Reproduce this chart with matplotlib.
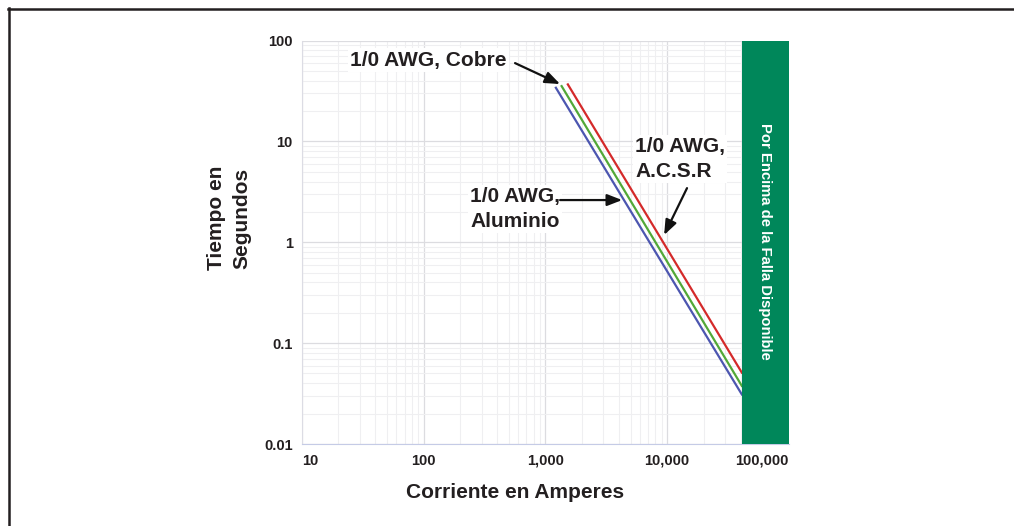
import numpy as np
import matplotlib
matplotlib.use("Agg")
import matplotlib.pyplot as plt
from matplotlib.ticker import LogLocator, NullFormatter

# ---- data ----
x_ticks = [10, 100, 1000, 10000, 100000]
x_tick_labels = ["10", "100", "1,000", "10,000", "100,000"]
y_ticks = [0.01, 0.1, 1, 10, 100]
y_tick_labels = ["0.01", "0.1", "1", "10", "100"]

aluminio_I = [1220, 41000]
aluminio_t = [34.0, 0.031]
acsr_I = [1360, 41000]
acsr_t = [35.3, 0.0377]
cobre_I = [1530, 41000]
cobre_t = [36.7, 0.051]

falla_start = 41000
falla_end = 100000

TXT = "#231f20"
plt.rcParams["font.family"] = ["Liberation Sans", "DejaVu Sans"]
plt.rcParams["font.weight"] = "bold"

fig = plt.figure(figsize=(10.14, 5.26), dpi=100)
ax = fig.add_axes([301.7 / 1014, 82 / 526, 487.3 / 1014, 403.5 / 526])
ax.set_xscale("log")
ax.set_yscale("log")
ax.set_xlim(10, 100000)
ax.set_ylim(0.01, 100)

ax.xaxis.set_minor_locator(LogLocator(base=10, subs=np.arange(2, 10)))
ax.yaxis.set_minor_locator(LogLocator(base=10, subs=np.arange(2, 10)))
ax.xaxis.set_minor_formatter(NullFormatter())
ax.yaxis.set_minor_formatter(NullFormatter())
ax.grid(True, which="major", color="#dcdce0", lw=0.9)
ax.grid(True, which="minor", color="#efeff1", lw=0.8)
ax.set_axisbelow(True)

ax.set_xticks(x_ticks)
ax.set_xticklabels(x_tick_labels)
ax.set_yticks(y_ticks)
ax.set_yticklabels(y_tick_labels)
ax.tick_params(which="both", length=0)
ax.tick_params(axis="x", pad=7, labelsize=10.5, labelcolor=TXT)
ax.tick_params(axis="y", pad=6.5, labelsize=10.5, labelcolor=TXT)
for lab in ax.get_xticklabels():
    lab.set_fontweight("bold")
xl = ax.get_xticklabels()
xl[0].set_ha("left")
xl[-1].set_ha("right")
for lab in ax.get_yticklabels():
    lab.set_fontweight("bold")

for s in ["top", "right"]:
    ax.spines[s].set_visible(False)
ax.spines["left"].set_color("#dcdce4")
ax.spines["bottom"].set_color("#c5cbe6")

# green band
ax.axvspan(falla_start, falla_end, color="#00875a", zorder=3, lw=0)
gx = np.sqrt(falla_start * falla_end)
ax.text(gx, 1.02, "Por Encima de la Falla Disponible", rotation=-90,
        ha="center", va="center", color="white", fontsize=10.7,
        fontweight="bold", zorder=4)

# lines
ax.plot(cobre_I, cobre_t, color="#d42a2a", lw=1.6, zorder=2.5)
ax.plot(acsr_I, acsr_t, color="#52a838", lw=1.6, zorder=2.5)
ax.plot(aluminio_I, aluminio_t, color="#4c56b0", lw=1.6, zorder=2.5)

# annotations
bb = dict(facecolor="white", edgecolor="none", pad=1.5)
ap = dict(arrowstyle="-|>,head_length=0.9,head_width=0.35", color="#111111",
          lw=1.6, shrinkA=0, shrinkB=0)
ax.text(25, 64, "1/0 AWG, Cobre", ha="left", va="center", fontsize=15,
        fontweight="bold", color=TXT, bbox=bb, zorder=5)
ax.annotate("", xy=(1321, 37), xytext=(564, 59.7), arrowprops=ap, zorder=6)

ax.text(241, 2.13, "1/0 AWG,\nAluminio", ha="left", va="center", fontsize=15,
        fontweight="bold", color=TXT, bbox=bb, zorder=5, linespacing=1.42)
ax.annotate("", xy=(4270, 2.62), xytext=(1321, 2.62), arrowprops=ap, zorder=6)

ax.text(5450, 6.7, "1/0 AWG,\nA.C.S.R", ha="left", va="center", fontsize=15,
        fontweight="bold", color=TXT, bbox=bb, zorder=5, linespacing=1.42)
ax.annotate("", xy=(9440, 1.18), xytext=(14550, 3.44), arrowprops=ap, zorder=6)

# axis labels
fig.text(515 / 1014, 1 - 493 / 526, "Corriente en Amperes", ha="center",
         va="center", fontsize=15, fontweight="bold", color=TXT)
fig.text(229 / 1014, 1 - 218 / 526, "Tiempo en\nSegundos", ha="center",
         va="center", rotation=90, fontsize=15, fontweight="bold", color=TXT,
         multialignment="center", linespacing=1.4)

# frame lines (top and left)
fig.add_artist(plt.Line2D([8 / 1014, 1.0], [1 - 9 / 526, 1 - 9 / 526],
                          color=TXT, lw=1.8, transform=fig.transFigure))
fig.add_artist(plt.Line2D([9 / 1014, 9 / 1014], [0, 1 - 8 / 526],
                          color=TXT, lw=1.8, transform=fig.transFigure))

fig.savefig("out.png", dpi=100)
